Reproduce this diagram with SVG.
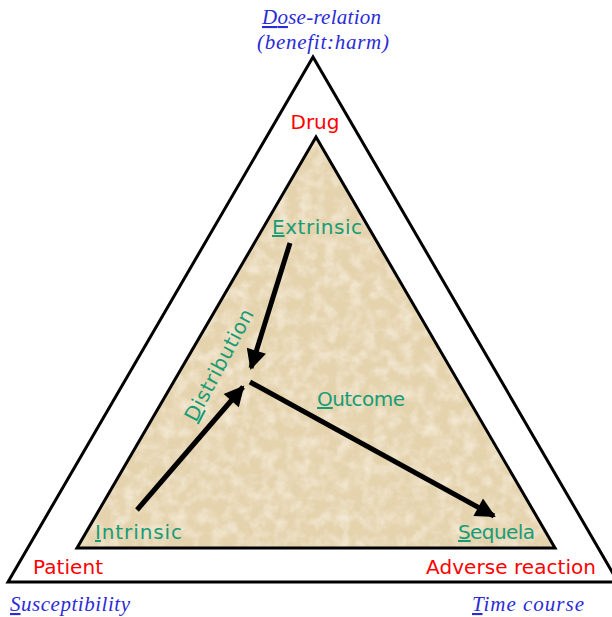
<svg xmlns="http://www.w3.org/2000/svg" width="612" height="617" viewBox="0 0 612 617">
<defs>
<style>
.c{font-family:"DejaVu Sans","Noto Sans",sans-serif;font-size:20px}
.g{fill:#179c76}
.r{fill:#ff0000}
.b{font-family:"Liberation Serif",serif;font-style:italic;font-size:21px;fill:#2b2bd6}
.u{text-decoration:underline}
.tri{fill:none;stroke:#000;stroke-width:3;stroke-linejoin:miter}
.arr{stroke:#000;stroke-width:5;fill:none}
</style>
<filter id="tex" x="0" y="0" width="100%" height="100%">
<feTurbulence type="fractalNoise" baseFrequency="0.08" numOctaves="3" seed="4" result="n"/>
<feColorMatrix in="n" type="matrix" values="0 0 0 0 0.92  0 0 0 0 0.85  0 0 0 0 0.72  0 0 0 -1.6 1.0" result="t"/>
<feComposite in="t" in2="SourceGraphic" operator="in"/>
</filter>
<marker id="ah" viewBox="0 0 10 10" refX="9" refY="5" markerWidth="4.4" markerHeight="4" orient="auto" markerUnits="strokeWidth">
<path d="M0,0 L10,5 L0,10 z" fill="#000"/>
</marker>
</defs>
<g id="outer">
<polygon class="tri" points="313,57 8,582 618,582"/>
</g>
<g id="inner">
<polygon points="316,137 77,548 555,548" fill="#e5d3ae"/>
<polygon points="316,137 77,548 555,548" fill="#f0e2c4" filter="url(#tex)"/>
<polygon class="tri" points="316,137 77,548 555,548"/>
</g>
<g id="connectors">
<line class="arr" x1="290" y1="243" x2="251" y2="368" marker-end="url(#ah)"/>
<line class="arr" x1="137" y1="510" x2="243" y2="387" marker-end="url(#ah)"/>
<line class="arr" x1="250" y1="382" x2="494" y2="516" marker-end="url(#ah)"/>
</g>
<g id="dose">
<text class="b" x="262" y="24" textLength="119"><tspan class="u">Do</tspan>se-relation</text>
<text class="b" x="257" y="49" textLength="132">(benefit:harm)</text>
</g>
<g id="drug"><text class="c r" x="315" y="129" text-anchor="middle">Drug</text></g>
<g id="extrinsic"><text class="c g" x="272" y="234" textLength="90"><tspan class="u">E</tspan>xtrinsic</text></g>
<g id="distribution"><text class="c g" transform="translate(196,423) rotate(-62)" textLength="124"><tspan class="u">D</tspan>istribution</text></g>
<g id="outcome"><text class="c g" x="317" y="406" textLength="88"><tspan class="u">O</tspan>utcome</text></g>
<g id="intrinsic"><text class="c g" x="95" y="539" textLength="87"><tspan class="u">I</tspan>ntrinsic</text></g>
<g id="sequela"><text class="c g" x="458" y="539" textLength="77"><tspan class="u">S</tspan>equela</text></g>
<g id="patient"><text class="c r" x="33" y="574" textLength="70">Patient</text></g>
<g id="adverse"><text class="c r" x="426" y="574" textLength="170">Adverse reaction</text></g>
<g id="susceptibility"><text class="b" x="10" y="611" textLength="120"><tspan class="u">S</tspan>usceptibility</text></g>
<g id="time"><text class="b" x="472" y="611" textLength="112"><tspan class="u">T</tspan>ime course</text></g>
</svg>
